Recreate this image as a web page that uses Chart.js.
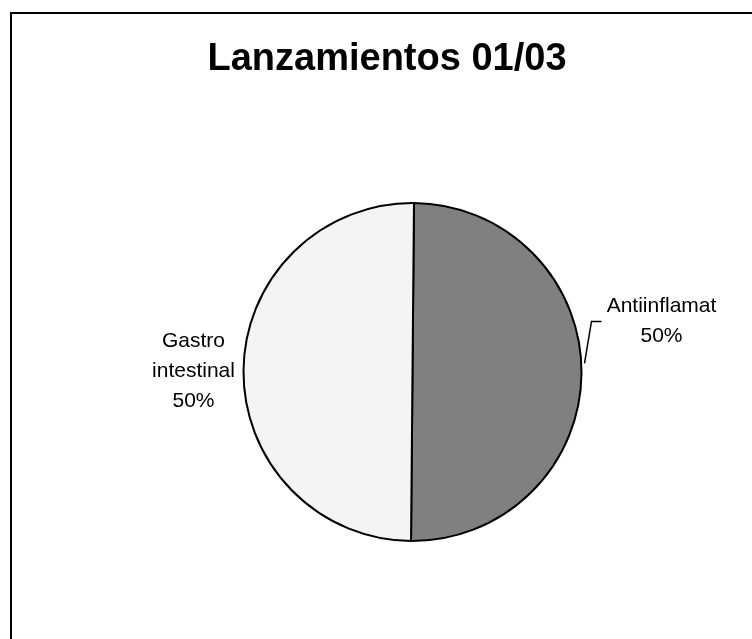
<!DOCTYPE html>
<html lang="es">
<head>
    <meta charset="UTF-8">
    <title>Lanzamientos 01/03</title>
    <script src="https://cdn.jsdelivr.net/npm/chart.js"></script>
    <style>
        html, body { margin: 0; padding: 0; background: #fff; }
        canvas { display: block; }
    </style>
</head>
<body>
    <canvas id="myChart" width="752" height="639"></canvas>
    <script>
    // Data
    const titleText = 'Lanzamientos 01/03';
    const categories = [['Antiinflamat'], ['Gastro', 'intestinal']];
    const values = [50, 50];
    const sliceColors = ['#808080', '#f4f4f4'];

    const FONT = "'Liberation Sans', Arial, sans-serif";

    // frame + title drawn behind the pie
    const frameAndTitle = {
        id: 'frameAndTitle',
        beforeDraw(chart) {
            const ctx = chart.ctx;
            ctx.save();
            ctx.strokeStyle = '#000';
            ctx.lineWidth = 2;
            ctx.strokeRect(11, 13, 1000, 1000);
            ctx.fillStyle = '#000';
            ctx.font = 'bold 38px ' + FONT;
            ctx.textAlign = 'center';
            ctx.textBaseline = 'alphabetic';
            ctx.fillText(titleText, 387, 70);
            ctx.restore();
        }
    };

    // slice labels with category name and percentage
    const sliceLabels = {
        id: 'sliceLabels',
        afterDatasetsDraw(chart, args, opts) {
            const ctx = chart.ctx;
            const meta = chart.getDatasetMeta(0);
            const total = values.reduce((a, b) => a + b, 0);
            ctx.save();
            ctx.fillStyle = '#000';
            ctx.strokeStyle = '#000';
            ctx.lineWidth = 1.5;
            ctx.font = '21px ' + FONT;
            ctx.textAlign = 'center';
            ctx.textBaseline = 'alphabetic';
            meta.data.forEach((arc, i) => {
                const p = arc.getProps(['x', 'y', 'startAngle', 'endAngle', 'outerRadius'], true);
                const mid = (p.startAngle + p.endAngle) / 2;
                const ex = p.x + Math.cos(mid) * p.outerRadius;
                const ey = p.y + Math.sin(mid) * p.outerRadius;
                const place = opts.place[i];
                const lines = categories[i].concat([Math.round(values[i] / total * 100) + '%']);
                lines.forEach((t, k) => {
                    ctx.fillText(t, ex + place.dx, ey + place.dy + k * 30);
                });
                if (place.leader) {
                    ctx.beginPath();
                    place.leader.forEach((pt, k) => {
                        if (k === 0) ctx.moveTo(ex + pt[0], ey + pt[1]);
                        else ctx.lineTo(ex + pt[0], ey + pt[1]);
                    });
                    ctx.stroke();
                }
            });
            ctx.restore();
        }
    };

    const ctx = document.getElementById('myChart').getContext('2d');
    const myChart = new Chart(ctx, {
        type: 'pie',
        data: {
            labels: categories.map(c => c.join(' ')),
            datasets: [{
                data: values,
                backgroundColor: sliceColors,
                borderColor: '#000',
                borderWidth: 2
            }]
        },
        options: {
            responsive: false,
            animation: false,
            devicePixelRatio: 1,
            rotation: 0.5,
            layout: {
                padding: { top: 202, bottom: 97, left: 242.5, right: 169.5 }
            },
            plugins: {
                legend: { display: false },
                title: { display: false },
                tooltip: { enabled: false },
                sliceLabels: {
                    place: [
                        { dx: 80, dy: -61, leader: [[3, -10], [10, -52], [20, -52]] },
                        { dx: -50, dy: -24 }
                    ]
                }
            }
        },
        plugins: [frameAndTitle, sliceLabels]
    });
    </script>
</body>
</html>
